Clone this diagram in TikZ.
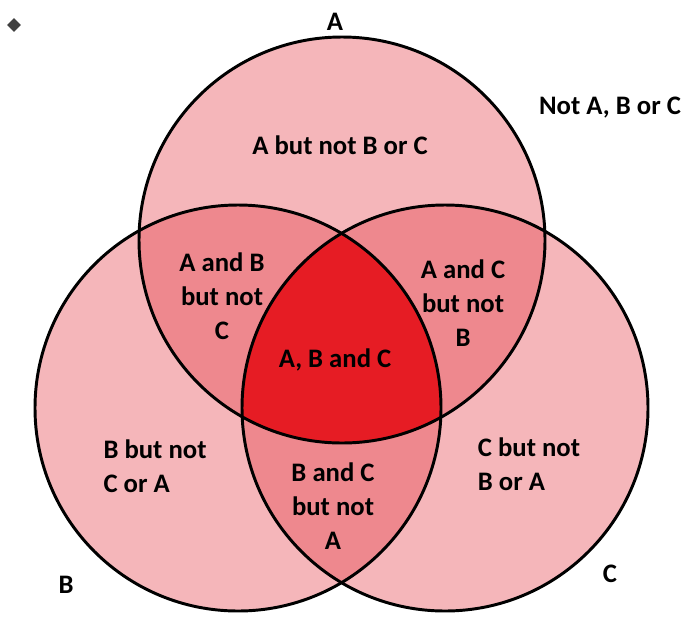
\documentclass[tikz,border=0pt]{standalone}
\usepackage{fontspec}
\setmainfont{Carlito}
\usetikzlibrary{shapes.geometric}

\definecolor{onlyone}{RGB}{245,182,186}
\definecolor{twoset}{RGB}{238,136,142}
\definecolor{allset}{RGB}{230,28,36}
\tikzset{
    region/.style={font=\bfseries\fontsize{19}{24}\selectfont, align=center, inner sep=0pt},
    rim/.style={line width=2.1pt, black}
}

\begin{document}
\begin{tikzpicture}[x=0.025cm,y=-0.025cm]
    \useasboundingbox (0,0) rectangle (681,619);
    \def\rad{203}
    \coordinate (ca) at (342,240);
    \coordinate (cb) at (238,408);
    \coordinate (cc) at (445,408);

    % shading of the regions
    \foreach \c in {ca,cb,cc} {
        \fill[onlyone] (\c) circle[radius=\rad];
    }
    \begin{scope}
        \clip (ca) circle[radius=\rad];
        \fill[twoset] (cb) circle[radius=\rad];
        \fill[twoset] (cc) circle[radius=\rad];
    \end{scope}
    \begin{scope}
        \clip (cb) circle[radius=\rad];
        \fill[twoset] (cc) circle[radius=\rad];
    \end{scope}
    \begin{scope}
        \clip (ca) circle[radius=\rad];
        \clip (cb) circle[radius=\rad];
        \fill[allset] (cc) circle[radius=\rad];
    \end{scope}
    \foreach \c in {ca,cb,cc} {
        \draw[rim] (\c) circle[radius=\rad];
    }

    \node[diamond, fill=black!75, inner sep=0pt, minimum size=10pt] (mark) at (14,25) {};

    \node[region] (seta) at (335,22) {A};
    \node[region] (setb) at (66,585) {B};
    \node[region] (setc) at (610,574) {C};
    \node[region] (none) at (610,108) {Not A, B or C};

    \node[region] (aonly) at (340,145) {A but not B or C};
    \node[region] (ab) at (222,296) {A and B\\but not\\C};
    \node[region] (ac) at (463,303) {A and C\\but not\\B};
    \node[region] (abc) at (335,360) {A, B and C};
    \node[region, align=left] (bonly) at (155,466) {B but not\\C or A};
    \node[region, align=left] (conly) at (529,464) {C but not\\B or A};
    \node[region] (bc) at (333,506) {B and C\\but not\\A};
\end{tikzpicture}
\end{document}
